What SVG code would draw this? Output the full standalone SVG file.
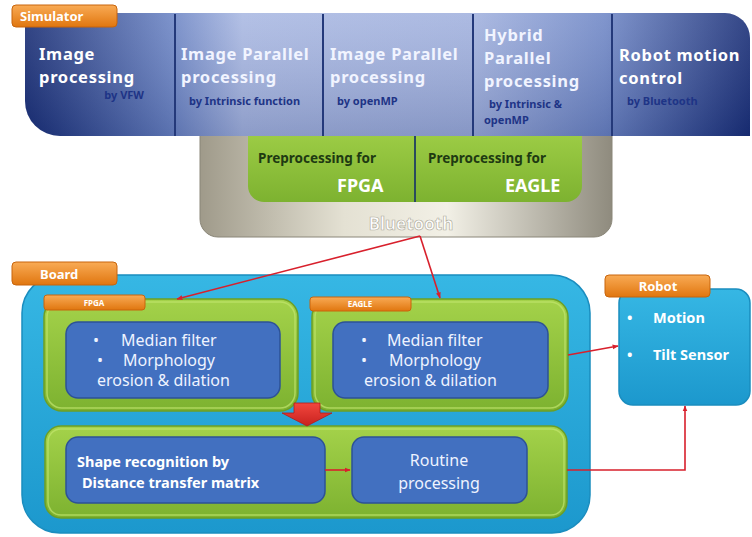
<svg xmlns="http://www.w3.org/2000/svg" width="752" height="537" viewBox="0 0 752 537">
<defs>
<linearGradient id="band" x1="0" y1="0" x2="1" y2="0">
<stop offset="0" stop-color="#172c74"/>
<stop offset="0.2" stop-color="#6a83c3"/>
<stop offset="0.3" stop-color="#a9b8e2"/>
<stop offset="0.62" stop-color="#a1b1de"/>
<stop offset="0.8" stop-color="#6f87c6"/>
<stop offset="1" stop-color="#182d76"/>
</linearGradient>
<linearGradient id="bandShade" x1="0" y1="0" x2="0" y2="1">
<stop offset="0" stop-color="#ffffff" stop-opacity="0.12"/>
<stop offset="1" stop-color="#0a1a50" stop-opacity="0.18"/>
</linearGradient>
<linearGradient id="gray" x1="0" y1="0" x2="1" y2="0">
<stop offset="0" stop-color="#9f9a8a"/>
<stop offset="0.35" stop-color="#e4e1d3"/>
<stop offset="0.6" stop-color="#f2f0e6"/>
<stop offset="1" stop-color="#8f8b7e"/>
</linearGradient>
<linearGradient id="green" x1="0" y1="0" x2="0" y2="1">
<stop offset="0" stop-color="#a4d24a"/>
<stop offset="1" stop-color="#7db230"/>
</linearGradient>
<linearGradient id="cyan" x1="0" y1="0" x2="0" y2="1">
<stop offset="0" stop-color="#36b7e4"/>
<stop offset="1" stop-color="#1c98cd"/>
</linearGradient>
<linearGradient id="orange" x1="0" y1="0" x2="0" y2="1">
<stop offset="0" stop-color="#f9ab55"/>
<stop offset="1" stop-color="#e0760f"/>
</linearGradient>
<linearGradient id="red" x1="0" y1="0" x2="0" y2="1">
<stop offset="0" stop-color="#f2463e"/>
<stop offset="1" stop-color="#c8221e"/>
</linearGradient>
<marker id="ah" viewBox="0 0 10 10" refX="9" refY="5" markerWidth="6" markerHeight="6" orient="auto" markerUnits="userSpaceOnUse">
<path d="M0,1 L10,5 L0,9 Z" fill="#d8202c"/>
</marker>
</defs>
<style>
.tag{fill:url(#orange);stroke:#c8650c;stroke-width:1}
.tagt{font-family:"Noto Sans","Liberation Sans",sans-serif;font-weight:bold;fill:#ffffff}
.hd{font-family:"Noto Sans","Liberation Sans",sans-serif;font-weight:bold;font-size:16.5px;letter-spacing:0.7px;fill:#ffffff}
.hdl{font-family:"Noto Sans","Liberation Sans",sans-serif;font-weight:bold;font-size:16.5px;letter-spacing:0.7px;fill:#f1f4ff}
.by{font-family:"Noto Sans","Liberation Sans",sans-serif;font-weight:bold;font-size:11px;fill:#1e3486}
.div{stroke:#24397a;stroke-width:2}
.gbox{fill:url(#green);stroke:#6c9f25;stroke-width:1.5}
.glow{fill:none;stroke:#c2e56e;stroke-width:1.5;stroke-opacity:0.7}
.ibox{fill:#4270c0;stroke:#2d5296;stroke-width:1.5}
.it{font-family:"Noto Sans","Liberation Sans",sans-serif;font-size:16px;fill:#eef3ff}
.itb{font-family:"Noto Sans","Liberation Sans",sans-serif;font-size:14.5px;font-weight:bold;fill:#ffffff}
.pp{font-family:"Noto Sans","Liberation Sans",sans-serif;font-size:13.5px;font-weight:bold;fill:#1e3a12}
.pw{font-family:"Noto Sans","Liberation Sans",sans-serif;font-size:18px;font-weight:bold;fill:#ffffff}
.con{fill:none;stroke:#d8202c;stroke-width:1.6}
</style>

<g id="preprocessing">
<rect x="200" y="110" width="412" height="127" rx="18" fill="url(#gray)" stroke="#8a8678" stroke-width="1"/>
<rect x="248" y="118" width="334" height="84" rx="16" fill="url(#green)"/>
<line x1="415" y1="136" x2="415" y2="202" stroke="#2a4b5e" stroke-width="2"/>
<text class="pp" x="258" y="163">Preprocessing for</text>
<text class="pw" x="337" y="192">FPGA</text>
<text class="pp" x="428" y="163">Preprocessing for</text>
<text class="pw" x="505" y="192">EAGLE</text>
<text x="411" y="230" text-anchor="middle" font-family="Noto Sans, Liberation Sans, sans-serif" font-size="17" font-weight="bold" fill="#ffffff" stroke="#b3b0a2" stroke-width="0.7">Bluetooth</text>
</g>

<g id="simulator">
<path d="M25,13 H725 A25,25 0 0 1 750,38 V136 H60 A35,35 0 0 1 25,101 Z" fill="url(#band)"/>
<path d="M25,13 H725 A25,25 0 0 1 750,38 V136 H60 A35,35 0 0 1 25,101 Z" fill="url(#bandShade)"/>
<line class="div" x1="175" y1="14" x2="175" y2="136"/>
<line class="div" x1="323" y1="14" x2="323" y2="136"/>
<line class="div" x1="473" y1="14" x2="473" y2="136"/>
<line class="div" x1="612" y1="14" x2="612" y2="136"/>
<rect class="tag" x="12" y="5" width="105" height="22" rx="4"/>
<text class="tagt" x="20" y="21" font-size="13">Simulator</text>
<text class="hd" x="39" y="60">Image</text>
<text class="hd" x="39" y="83">processing</text>
<text class="by" x="144" y="99" text-anchor="end" fill="#2a4aa6">by VFW</text>
<text class="hdl" x="181" y="60">Image Parallel</text>
<text class="hdl" x="181" y="83">processing</text>
<text class="by" x="189" y="105">by Intrinsic function</text>
<text class="hdl" x="330" y="60">Image Parallel</text>
<text class="hdl" x="330" y="83">processing</text>
<text class="by" x="337" y="105">by openMP</text>
<text class="hdl" x="484" y="41">Hybrid</text>
<text class="hdl" x="484" y="64">Parallel</text>
<text class="hdl" x="484" y="87">processing</text>
<text class="by" x="489" y="108">by Intrinsic &amp;</text>
<text class="by" x="484" y="124">openMP</text>
<text class="hd" x="619" y="61">Robot motion</text>
<text class="hd" x="619" y="84">control</text>
<text class="by" x="627" y="105" fill="#3a66c8">by Bluetooth</text>
</g>

<g id="board">
<rect x="22" y="275" width="568" height="258" rx="38" fill="url(#cyan)" stroke="#1a8dbf" stroke-width="1.5"/>
<rect class="tag" x="12" y="262" width="105" height="23" rx="4"/>
<text class="tagt" x="40" y="279" font-size="13">Board</text>
</g>

<g id="fpga">
<rect class="gbox" x="44" y="299" width="254" height="112" rx="18"/>
<rect class="glow" x="47" y="302" width="248" height="106" rx="15"/>
<rect class="ibox" x="66" y="322" width="214" height="76" rx="12"/>
<rect class="tag" x="44" y="295" width="101" height="15" rx="3"/>
<text class="tagt" x="94" y="306" font-size="8" text-anchor="middle">FPGA</text>
<text class="it" x="93" y="346">•</text>
<text class="it" x="121" y="346">Median  filter</text>
<text class="it" x="97" y="366">•</text>
<text class="it" x="123" y="366">Morphology</text>
<text class="it" x="97" y="386">erosion  &amp;  dilation</text>
</g>

<g id="eagle">
<rect class="gbox" x="312" y="299" width="256" height="112" rx="18"/>
<rect class="glow" x="315" y="302" width="250" height="106" rx="15"/>
<rect class="ibox" x="333" y="322" width="215" height="76" rx="12"/>
<rect class="tag" x="310" y="297" width="101" height="14" rx="3"/>
<text class="tagt" x="360" y="307" font-size="8" text-anchor="middle">EAGLE</text>
<text class="it" x="361" y="346">•</text>
<text class="it" x="387" y="346">Median  filter</text>
<text class="it" x="361" y="366">•</text>
<text class="it" x="389" y="366">Morphology</text>
<text class="it" x="364" y="386">erosion  &amp;  dilation</text>
</g>

<g id="recognition">
<rect class="gbox" x="45" y="426" width="522" height="92" rx="16"/>
<rect class="glow" x="48" y="429" width="516" height="86" rx="13"/>
<rect class="ibox" x="66" y="437" width="259" height="66" rx="12"/>
<text class="itb" x="77" y="467">Shape recognition by</text>
<text class="itb" x="82" y="488">Distance transfer matrix</text>
<rect class="ibox" x="352" y="437" width="175" height="66" rx="12"/>
<text class="it" x="439" y="466" text-anchor="middle" font-size="17">Routine</text>
<text class="it" x="439" y="489" text-anchor="middle" font-size="17">processing</text>
</g>

<g id="robot">
<rect x="619" y="289" width="131" height="116" rx="14" fill="url(#cyan)" stroke="#1a8dbf" stroke-width="1.5"/>
<rect class="tag" x="605" y="275" width="105" height="22" rx="4"/>
<text class="tagt" x="658" y="291" font-size="13" text-anchor="middle">Robot</text>
<text class="itb" x="627" y="323" font-size="15">•</text>
<text class="itb" x="653" y="323" font-size="15">Motion</text>
<text class="itb" x="627" y="360" font-size="15">•</text>
<text class="itb" x="653" y="360" font-size="15">Tilt  Sensor</text>
</g>

<g id="connectors">
<line class="con" x1="420" y1="236" x2="177" y2="299" marker-end="url(#ah)"/>
<line class="con" x1="420" y1="236" x2="440" y2="298" marker-end="url(#ah)"/>
<line class="con" x1="568" y1="355" x2="618" y2="346" marker-end="url(#ah)"/>
<polyline class="con" points="567,470 685,470 685,406" marker-end="url(#ah)"/>
<line class="con" x1="325" y1="470" x2="350" y2="470" marker-end="url(#ah)"/>
<polygon points="294,403 320,403 320,413 332,413 307,426 282,413 294,413" fill="url(#red)" stroke="#b51c18" stroke-width="0.8"/>
</g>
</svg>
